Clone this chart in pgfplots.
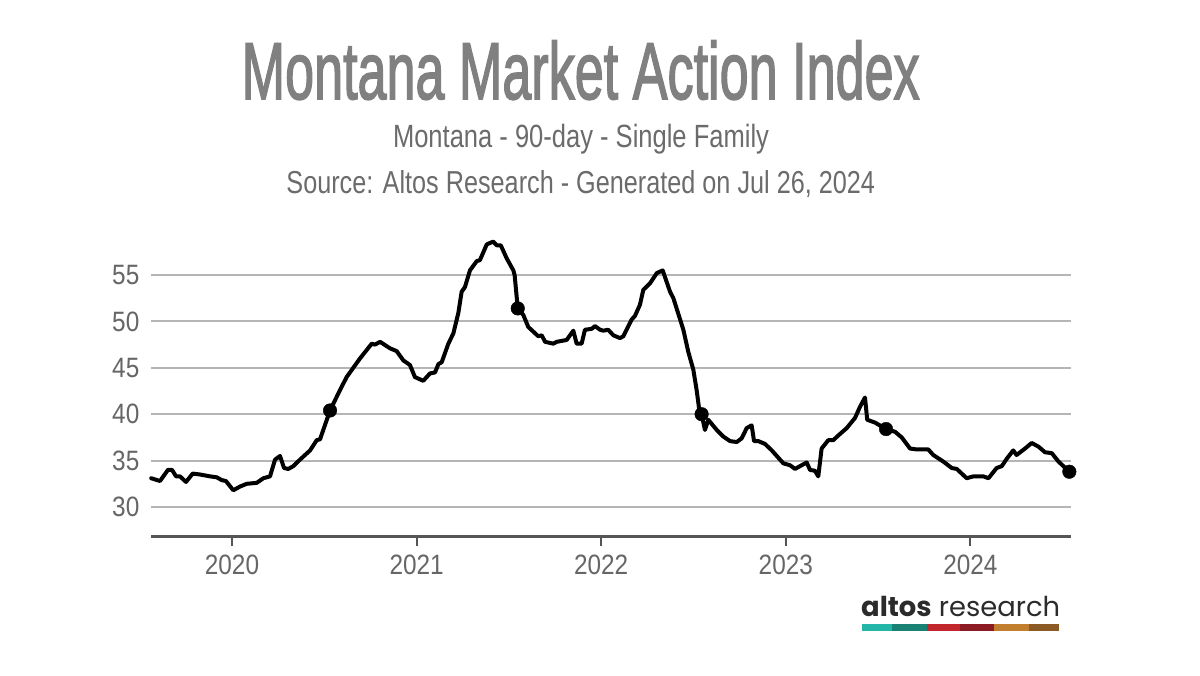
\documentclass[border=0pt]{standalone}
\usepackage{fontspec}
\usepackage{graphicx}
\usepackage{pgfplots}
\pgfplotsset{compat=1.18}
\setmainfont{Liberation Sans}
\newfontfamily\titlefont[FakeBold=2.2]{Liberation Sans}
\newfontfamily\tickfont[FakeStretch=0.87]{Liberation Sans}
\newfontfamily\logofont{Poppins}
\definecolor{titlegray}{HTML}{808080}
\definecolor{subgray}{HTML}{6B6B6B}
\definecolor{tickgray}{HTML}{666666}
\definecolor{axisgray}{HTML}{555555}
\definecolor{gridgray}{HTML}{B5B5B5}
\definecolor{logodark}{HTML}{2B2B2B}
\definecolor{lA}{HTML}{22B5A8}
\definecolor{lB}{HTML}{1A8275}
\definecolor{lC}{HTML}{C1272D}
\definecolor{lD}{HTML}{8C1B24}
\definecolor{lE}{HTML}{C17F2E}
\definecolor{lF}{HTML}{8C5A24}
\pgfplotstableread{
x y
2019.562 33.1
2019.610 32.8
2019.653 34.0
2019.675 34.0
2019.697 33.3
2019.718 33.3
2019.751 32.7
2019.787 33.6
2019.827 33.5
2019.881 33.3
2019.917 33.2
2019.944 32.9
2019.967 32.8
2020.007 31.8
2020.043 32.2
2020.080 32.5
2020.134 32.6
2020.170 33.1
2020.206 33.3
2020.233 35.1
2020.260 35.5
2020.282 34.2
2020.305 34.1
2020.332 34.4
2020.368 35.1
2020.423 36.1
2020.459 37.2
2020.477 37.3
2020.531 40.4
2020.585 42.6
2020.621 44.0
2020.693 46.0
2020.757 47.6
2020.775 47.5
2020.802 47.8
2020.856 47.1
2020.892 46.8
2020.928 45.8
2020.964 45.3
2020.991 44.0
2021.036 43.6
2021.073 44.4
2021.100 44.5
2021.118 45.4
2021.136 45.6
2021.172 47.6
2021.199 48.7
2021.226 50.9
2021.244 53.2
2021.262 53.7
2021.289 55.5
2021.326 56.5
2021.343 56.6
2021.380 58.3
2021.415 58.6
2021.434 58.2
2021.456 58.2
2021.488 56.8
2021.524 55.5
2021.531 55.0
2021.548 51.4
2021.578 50.7
2021.605 49.4
2021.659 48.4
2021.678 48.5
2021.696 47.8
2021.741 47.6
2021.759 47.8
2021.813 48.0
2021.849 49.0
2021.867 47.6
2021.894 47.6
2021.912 49.1
2021.949 49.2
2021.966 49.5
2021.994 49.1
2022.011 49.0
2022.038 49.1
2022.066 48.5
2022.102 48.2
2022.120 48.4
2022.165 50.2
2022.183 50.6
2022.210 51.8
2022.228 53.4
2022.264 54.1
2022.301 55.2
2022.333 55.5
2022.373 53.2
2022.391 52.5
2022.445 49.1
2022.472 46.7
2022.499 44.8
2022.517 42.6
2022.531 40.5
2022.544 40.0
2022.562 38.3
2022.580 39.4
2022.626 38.3
2022.661 37.6
2022.698 37.1
2022.734 37.0
2022.761 37.4
2022.788 38.5
2022.815 38.8
2022.828 37.1
2022.851 37.1
2022.887 36.8
2022.924 36.1
2022.987 34.7
2023.023 34.5
2023.050 34.1
2023.077 34.4
2023.113 34.8
2023.131 34.0
2023.158 33.9
2023.176 33.3
2023.194 36.3
2023.230 37.2
2023.257 37.2
2023.284 37.7
2023.330 38.5
2023.375 39.6
2023.402 40.8
2023.429 41.8
2023.441 39.4
2023.483 39.1
2023.543 38.4
2023.592 38.1
2023.628 37.5
2023.673 36.3
2023.709 36.2
2023.772 36.2
2023.799 35.6
2023.853 34.9
2023.899 34.2
2023.926 34.1
2023.980 33.1
2024.016 33.3
2024.070 33.3
2024.098 33.1
2024.142 34.2
2024.170 34.4
2024.197 35.2
2024.232 36.1
2024.250 35.6
2024.296 36.3
2024.332 36.9
2024.369 36.5
2024.404 35.9
2024.441 35.8
2024.477 34.9
2024.536 33.8
}\mainseries
\pgfplotstableread{
x y
2020.531 40.4
2021.548 51.4
2022.544 40.0
2023.543 38.4
2024.536 33.8
}\markseries
\begin{document}
\begin{tikzpicture}
\useasboundingbox[fill=white] (0,0) rectangle (1200bp,676bp);
\node[anchor=base, inner sep=0pt, text=titlegray] at (580.7bp,577bp)
  {\resizebox{678bp}{58.5bp}{\titlefont Montana Market Action Index}};
\node[anchor=base, inner sep=0pt, text=subgray] at (581bp,528.7bp)
  {\resizebox{376bp}{23.3bp}{Montana - 90-day - Single Family}};
\node[anchor=base, inner sep=0pt, text=subgray] at (580.75bp,482.7bp)
  {\resizebox{588.5bp}{23bp}{Source: Altos Research - Generated on Jul 26, 2024}};
\begin{axis}[
  at={(151bp,139.5bp)}, anchor=south west,
  scale only axis, width=920bp, height=298.6bp,
  xmin=2019.5612, xmax=2024.545, ymin=26.82, ymax=59,
  axis line style={draw=none},
  xtick pos=bottom, ytick pos=left,
  xtick={2020,2021,2022,2023,2024},
  xticklabels={2020,2021,2022,2023,2024},
  ytick={30,35,40,45,50,55},
  ymajorgrids,
  grid style={draw=gridgray, line width=2bp},
  xtick style={draw=axisgray, line width=2bp},
  ytick style={draw=none},
  tick align=outside, major tick length=10bp,
  /pgf/number format/assume math mode=true,
  x tick label style={font=\tickfont\fontsize{28bp}{30bp}\selectfont, text=tickgray, inner sep=0pt, anchor=north, yshift=-8.5bp},
  y tick label style={font=\tickfont\fontsize{28bp}{30bp}\selectfont, text=tickgray, inner sep=0pt, anchor=east, xshift=-1.5bp},
  clip=false,
]
\draw[axisgray, line width=2.5bp] (rel axis cs:0,0) -- (rel axis cs:1,0);
\addplot[black, line width=4bp, line join=round, line cap=round] table[x=x,y=y] {\mainseries};
\addplot[only marks, mark=*, mark size=6.8bp, black] table[x=x,y=y] {\markseries};
\end{axis}
\node[anchor=base west, inner sep=0pt, text=logodark] at (861bp,59.3bp)
  {\resizebox{199bp}{!}{\logofont{\bfseries altos} research}};
\fill[lA] (861.7bp,45bp) rectangle (891.7bp,51.7bp);
\fill[lB] (891.7bp,45bp) rectangle (927.3bp,51.7bp);
\fill[lC] (927.3bp,45bp) rectangle (960bp,51.7bp);
\fill[lD] (960bp,45bp) rectangle (994bp,51.7bp);
\fill[lE] (994bp,45bp) rectangle (1029bp,51.7bp);
\fill[lF] (1029bp,45bp) rectangle (1059.3bp,51.7bp);
\end{tikzpicture}
\end{document}
